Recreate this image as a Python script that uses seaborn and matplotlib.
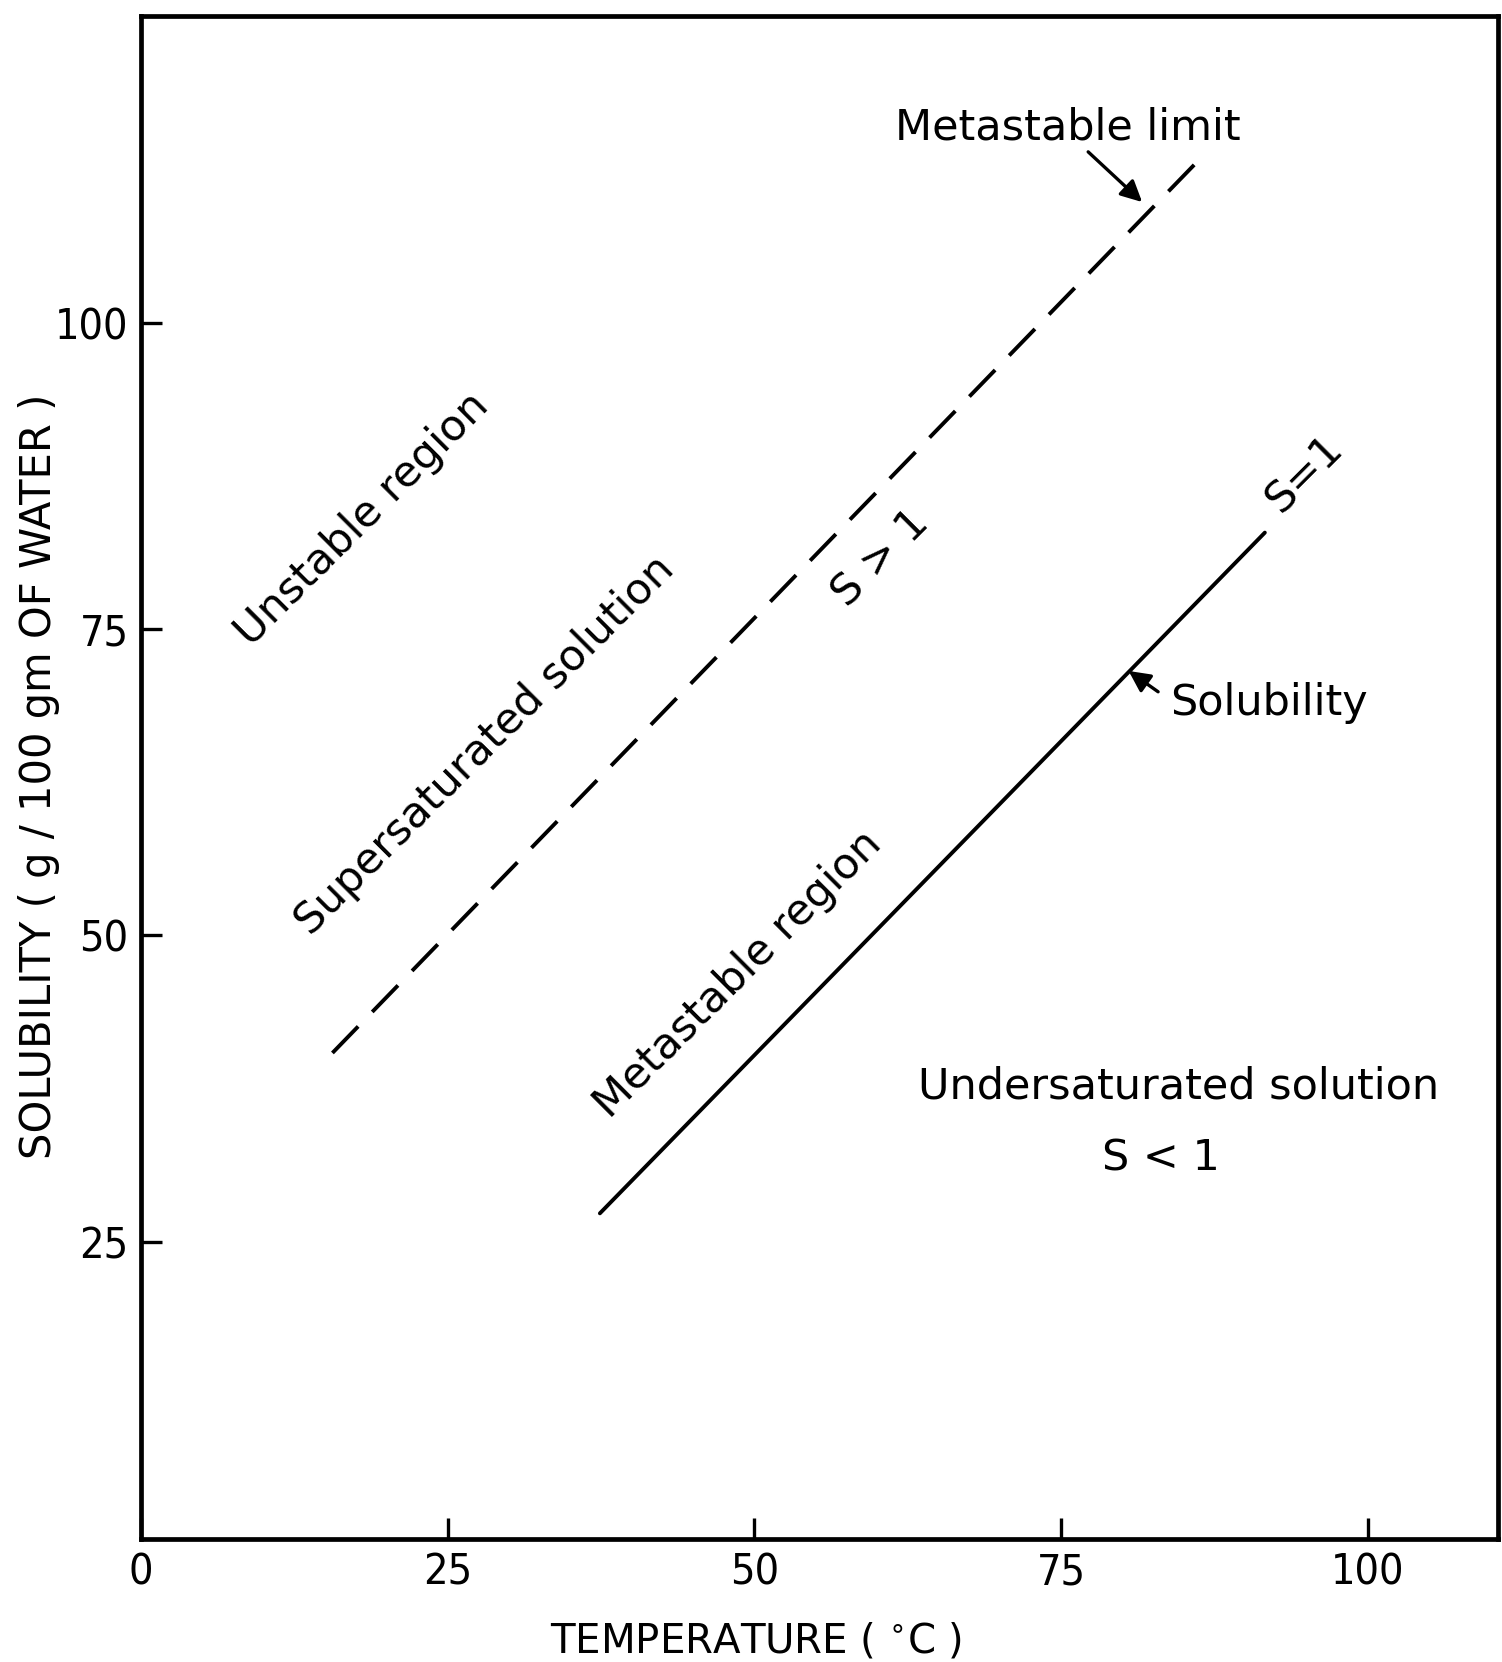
import matplotlib
matplotlib.use("Agg")
import matplotlib.pyplot as plt
from matplotlib import font_manager
import seaborn as sns
import pandas as pd

# ---- data ----
solubility_T = [37.4, 91.6]
solubility_S = [27.3, 82.9]
metastable_T = [15.6, 85.9]
metastable_S = [40.4, 113.0]
x_ticks = [0, 25, 50, 75, 100]
y_ticks = [25, 50, 75, 100]

sns.set_theme(style="white")
plt.rcParams['font.family'] = ['DejaVu Sans']

fonts = font_manager.fontManager.ttflist
names = {f.name for f in fonts}
cond = [f for f in fonts if f.name == 'DejaVu Sans' and f.stretch == 'condensed']
if 'Liberation Sans Narrow' in names:
    tick_kw = dict(family='Liberation Sans Narrow')
elif cond:
    tick_kw = dict(family='DejaVu Sans', fontstretch='condensed')
else:
    tick_kw = dict(family='DejaVu Sans')

fig = plt.figure(figsize=(15.02, 16.62), dpi=100)
ax = fig.add_axes([0.0939, 0.0740, 0.9973 - 0.0939, 0.9904 - 0.0740])

sol = pd.DataFrame({"T": solubility_T, "S": solubility_S})
met = pd.DataFrame({"T": metastable_T, "S": metastable_S})
sns.lineplot(data=sol, x="T", y="S", ax=ax, color="black", lw=2.8)
sns.lineplot(data=met, x="T", y="S", ax=ax, color="black", lw=2.8,
             linestyle=(0, (9.5, 5.2)))

ax.set_xlim(0, 110.6)
ax.set_ylim(0.7, 125.1)
ax.set_xticks(x_ticks)
ax.set_yticks(y_ticks)
ax.set_xticklabels([str(v) for v in x_ticks], fontsize=31, **tick_kw)
ax.set_yticklabels([str(v) for v in y_ticks], fontsize=31, **tick_kw)
ax.tick_params(axis='both', direction='in', length=15, width=2.4, color='black',
               labelcolor='black', bottom=True, left=True, top=False, right=False)
ax.tick_params(axis='x', pad=9)
ax.tick_params(axis='y', pad=9)
for s in ax.spines.values():
    s.set_visible(True)
    s.set_color('black')
    s.set_linewidth(3.4)
ax.set_xlabel("")
ax.set_ylabel("")

fig.text(756 / 1502, 1 - 1641 / 1662, "TEMPERATURE ( $^{\\circ}$C )", fontsize=29,
         color='black', ha='center', va='center')
fig.text(39 / 1502, 1 - 776 / 1662, "SOLUBILITY ( g / 100 gm OF WATER )", fontsize=30,
         color='black', ha='center', va='center', rotation=90)

fs = 31
txt = dict(fontsize=fs, color='black', ha='center', va='center', rotation_mode='anchor')
ax.text(18.0, 84.0, "Unstable region", rotation=45, **txt)
ax.text(28.0, 65.5, "Supersaturated solution", rotation=45, **txt)
ax.text(60.3, 80.8, "S > 1", rotation=45, **txt)
ax.text(48.7, 46.8, "Metastable region", rotation=45, **txt)
ax.text(94.8, 87.7, "S=1", rotation=45, **txt)
ax.text(84.6, 37.7, "Undersaturated solution", rotation=0, **txt)
ax.text(83.1, 31.8, "S < 1", rotation=0, **txt)
ax.text(75.5, 116.0, "Metastable limit", rotation=0, **txt)
ax.text(91.9, 69.0, "Solubility", rotation=0, **txt)

arrow = dict(arrowstyle='-|>', color='black', lw=2.4, mutation_scale=32,
             shrinkA=0, shrinkB=0)
ax.annotate("", xy=(81.6, 109.9), xytext=(77.2, 114.0), arrowprops=arrow)
ax.annotate("", xy=(80.5, 71.6), xytext=(82.9, 69.9), arrowprops=arrow)

fig.savefig("out.png", dpi=100)
